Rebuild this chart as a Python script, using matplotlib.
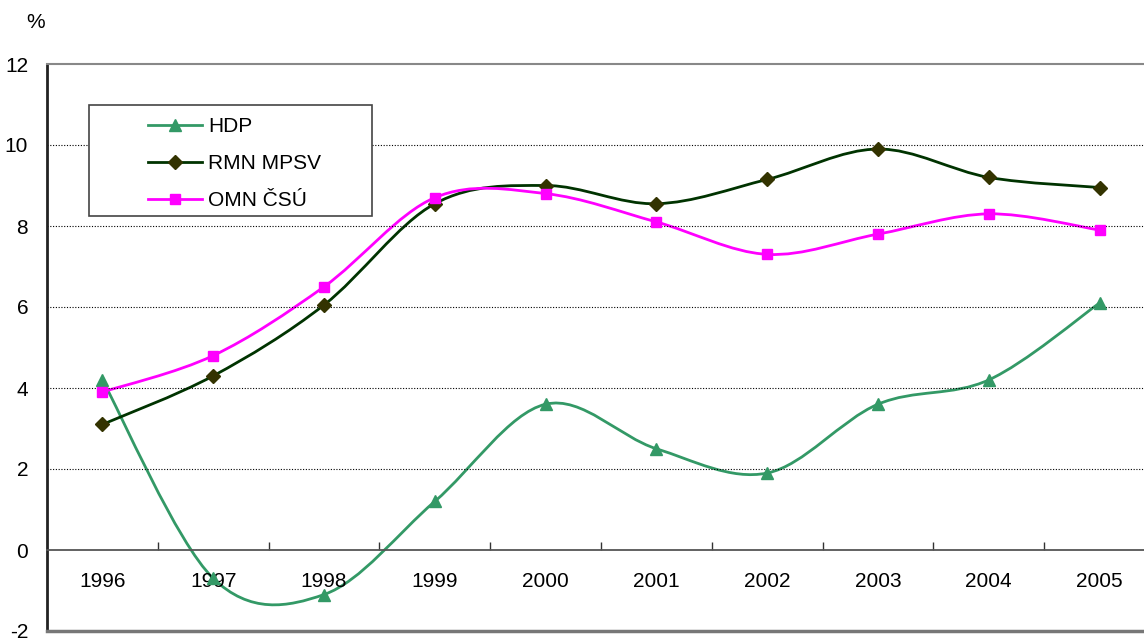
import numpy as np
import matplotlib
matplotlib.use("Agg")
import matplotlib.pyplot as plt
from matplotlib.path import Path
from matplotlib.patches import PathPatch, Rectangle

plt.rcParams['font.family'] = ['Liberation Sans', 'DejaVu Sans']
plt.rcParams['axes.unicode_minus'] = False

# Données
annees = ['1996', '1997', '1998', '1999', '2000', '2001', '2002', '2003', '2004', '2005']
hdp = [4.2, -0.7, -1.1, 1.2, 3.6, 2.5, 1.9, 3.6, 4.2, 6.1]
rmn_mpsv = [3.1, 4.3, 6.05, 8.55, 9.0, 8.55, 9.15, 9.9, 9.2, 8.95]
omn_csu = [3.9, 4.8, 6.5, 8.7, 8.8, 8.1, 7.3, 7.8, 8.3, 7.9]

TAILLE = 15


def courbe_lissee(ax, x, y, couleur, lw):
    # ligne lissée façon Excel (Bezier type Catmull-Rom)
    pts = np.column_stack([x, y]).astype(float)
    n = len(pts)
    verts = [pts[0]]
    codes = [Path.MOVETO]
    for i in range(n - 1):
        p0 = pts[max(i - 1, 0)]
        p1 = pts[i]
        p2 = pts[i + 1]
        p3 = pts[min(i + 2, n - 1)]
        c1 = p1 + (p2 - p0) / 6.0
        c2 = p2 - (p3 - p1) / 6.0
        verts += [c1, c2, p2]
        codes += [Path.CURVE4] * 3
    patch = PathPatch(Path(verts, codes), fill=False, edgecolor=couleur, lw=lw,
                      transform=ax.transData, capstyle='round', joinstyle='round')
    ax.add_patch(patch)


fig = plt.figure(figsize=(11.44, 6.4), dpi=100)
ax = fig.add_axes([47 / 1144, 9 / 640, 1108 / 1144, 567 / 640])

x = np.arange(len(annees))
series = [
    (hdp, 'HDP', '#339966', '#339966', '^', 9),
    (rmn_mpsv, 'RMN MPSV', '#003300', '#333300', 'D', 7),
    (omn_csu, 'OMN ČSÚ', '#FF00FF', '#FF00FF', 's', 7.5),
]
handles = []
for vals, nom, coul_l, coul_m, mk, ms in series:
    courbe_lissee(ax, x, vals, coul_l, 2.0)
    ax.plot(x, vals, linestyle='none', marker=mk, markersize=ms,
            color=coul_m, markeredgecolor=coul_m, zorder=4)
    h, = ax.plot([], [], color=coul_l, lw=2.0, marker=mk, markersize=ms,
                 markerfacecolor=coul_m, markeredgecolor=coul_m, label=nom)
    handles.append(h)

ax.set_xlim(-0.5, 9.5)
ax.set_ylim(-2, 12)
ax.set_yticks(range(-2, 13, 2))
ax.tick_params(axis='y', length=0, pad=13.5, labelsize=TAILLE)

# grille pointillée
for v in range(2, 11, 2):
    ax.axhline(v, color='black', lw=0.8, ls=(0, (1, 1.5)), zorder=1)

# axe des x à 0
ax.spines['bottom'].set_position(('data', 0))
ax.spines['bottom'].set_color('#555555')
ax.spines['bottom'].set_linewidth(1.3)
ax.set_xticks(x)
ax.set_xticklabels(annees)
ax.set_xticks(np.arange(0.5, 9.5, 1), minor=True)
ax.tick_params(axis='x', which='major', length=0, pad=16, labelsize=TAILLE)
ax.tick_params(axis='x', which='minor', direction='in', length=6, width=1, color='#333333')

ax.spines['left'].set_color('#222222')
ax.spines['left'].set_linewidth(2)
ax.spines['top'].set_color('#888888')
ax.spines['top'].set_linewidth(1.5)
ax.spines['right'].set_visible(False)
ax.axhline(-2, color='#777777', lw=2.5, clip_on=False, zorder=5)

# légende
cadre = Rectangle(((89 - 47) / 1108, (631 - 216) / 567), 283 / 1108, 111 / 567,
                  transform=ax.transAxes, facecolor='white',
                  edgecolor='#444444', lw=1.2, zorder=6)
ax.add_patch(cadre)
leg = ax.legend(handles=handles, loc='upper left', frameon=False, fontsize=TAILLE,
                bbox_to_anchor=((148 - 47) / 1108, (631 - 117) / 567),
                borderaxespad=0, borderpad=0, handlelength=2.6, handletextpad=0.3,
                labelspacing=0.86)
leg.set_zorder(7)

fig.text(36 / 1144, 1 - 23 / 640, '%', ha='center', va='center', fontsize=TAILLE)

fig.savefig('out.png', dpi=100)
